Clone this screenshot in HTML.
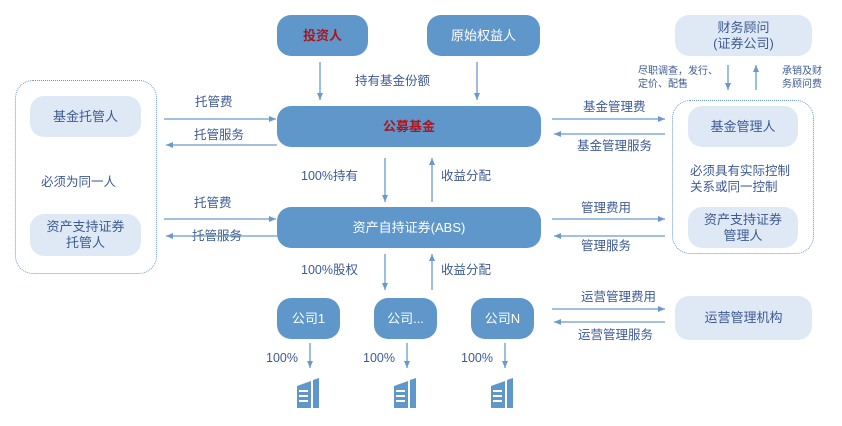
<!DOCTYPE html>
<html><head><meta charset="utf-8"><style>
body{margin:0;width:842px;height:426px;background:#fff;position:relative;overflow:hidden;font-family:"Liberation Sans","Noto Sans CJK SC",sans-serif;}
.b{position:absolute;display:flex;align-items:center;justify-content:center;text-align:center;border-radius:14px;font-size:13px;line-height:16px;}
.d{background:#5f97cb;color:#fff;}
.l{background:#dfe9f6;color:#3d5a94;}
.r{color:#b0141b;font-weight:bold;}
.t{position:absolute;color:#3d5a94;font-size:12.5px;white-space:nowrap;line-height:15px;}
.c{position:absolute;border:1.3px dotted #6a9acc;border-radius:18px;}
</style></head><body>
<div class="c" style="left:15px;top:80px;width:140px;height:192px"></div>
<div class="c" style="left:672px;top:100px;width:140px;height:152px"></div>

<div class="b d r" style="left:277px;top:15px;width:91px;height:41px">投资人</div>
<div class="b d" style="left:427px;top:15px;width:113px;height:41px">原始权益人</div>
<div class="b d r" style="left:277px;top:106px;width:264px;height:41px">公募基金</div>
<div class="b d" style="left:277px;top:207px;width:264px;height:41px">资产自持证券(ABS)</div>
<div class="b d" style="left:277px;top:298px;width:63px;height:41px">公司1</div>
<div class="b d" style="left:374px;top:298px;width:63px;height:41px">公司...</div>
<div class="b d" style="left:471px;top:298px;width:63px;height:41px">公司N</div>

<div class="b l" style="left:30px;top:96px;width:111px;height:41px">基金托管人</div>
<div class="b l" style="left:30px;top:214px;width:111px;height:42px">资产支持证券<br>托管人</div>
<div class="t" style="left:41px;top:175px">必须为同一人</div>

<div class="b l" style="left:675px;top:15px;width:137px;height:41px">财务顾问<br>(证券公司)</div>
<div class="b l" style="left:688px;top:106px;width:110px;height:41px">基金管理人</div>
<div class="b l" style="left:688px;top:207px;width:110px;height:41px">资产支持证券<br>管理人</div>
<div class="t" style="left:690px;top:163px;line-height:16px">必须具有实际控制<br>关系或同一控制</div>
<div class="b l" style="left:675px;top:296px;width:137px;height:44px">运营管理机构</div>

<div class="t" style="left:355px;top:74px">持有基金份额</div>
<div class="t" style="left:195px;top:95px">托管费</div>
<div class="t" style="left:194px;top:128px">托管服务</div>
<div class="t" style="left:194px;top:196px">托管费</div>
<div class="t" style="left:192px;top:229px">托管服务</div>
<div class="t" style="left:583px;top:100px">基金管理费</div>
<div class="t" style="left:577px;top:139px">基金管理服务</div>
<div class="t" style="left:581px;top:201px">管理费用</div>
<div class="t" style="left:581px;top:239px">管理服务</div>
<div class="t" style="left:581px;top:290px">运营管理费用</div>
<div class="t" style="left:578px;top:328px">运营管理服务</div>
<div class="t" style="left:301px;top:169px">100%持有</div>
<div class="t" style="left:441px;top:169px">收益分配</div>
<div class="t" style="left:301px;top:263px">100%股权</div>
<div class="t" style="left:441px;top:263px">收益分配</div>
<div class="t" style="left:266px;top:351px">100%</div>
<div class="t" style="left:363px;top:351px">100%</div>
<div class="t" style="left:461px;top:351px">100%</div>
<div class="t" style="left:638px;top:65px;font-size:10px;line-height:13px">尽职调查，发行、<br>定价、配售</div>
<div class="t" style="left:782px;top:65px;font-size:10px;line-height:13px">承销及财<br>务顾问费</div>

<svg width="842" height="426" style="position:absolute;left:0;top:0" fill="none" stroke="#6a9acc" stroke-width="1.3">
<defs><marker id="a" markerWidth="8" markerHeight="8" refX="7" refY="4" orient="auto" markerUnits="userSpaceOnUse"><path d="M0,1 L7,4 L0,7 Z" fill="#6a9acc" stroke="none"/></marker></defs>
<g marker-end="url(#a)">
<path d="M320 62V100"/><path d="M477 62V100"/>
<path d="M164 119H276"/><path d="M277 145H166"/>
<path d="M164 219H276"/><path d="M277 236H166"/>
<path d="M552 119H665"/><path d="M665 134H554"/>
<path d="M552 219H665"/><path d="M665 236H554"/>
<path d="M552 309H665"/><path d="M665 322H554"/>
<path d="M385 158V202"/><path d="M432 202V158"/>
<path d="M385 254V290"/><path d="M432 290V254"/>
<path d="M310 343V368"/><path d="M407 343V368"/><path d="M505 343V368"/>
<path d="M728 65V90"/><path d="M756 90V65"/>
</g>
<g fill="#5f97cb" stroke="none">
<g transform="translate(297,378)"><path d="M0 8L14 3V30H0Z"/><path d="M16 2L22 0V30H16Z"/><rect x="2" y="12" width="9" height="2" fill="#fff"/><rect x="2" y="17" width="9" height="2" fill="#fff"/><rect x="2" y="22" width="9" height="2" fill="#fff"/></g>
<g transform="translate(394,378)"><path d="M0 8L14 3V30H0Z"/><path d="M16 2L22 0V30H16Z"/><rect x="2" y="12" width="9" height="2" fill="#fff"/><rect x="2" y="17" width="9" height="2" fill="#fff"/><rect x="2" y="22" width="9" height="2" fill="#fff"/></g>
<g transform="translate(491,378)"><path d="M0 8L14 3V30H0Z"/><path d="M16 2L22 0V30H16Z"/><rect x="2" y="12" width="9" height="2" fill="#fff"/><rect x="2" y="17" width="9" height="2" fill="#fff"/><rect x="2" y="22" width="9" height="2" fill="#fff"/></g>
</g>
</svg>
</body></html>
